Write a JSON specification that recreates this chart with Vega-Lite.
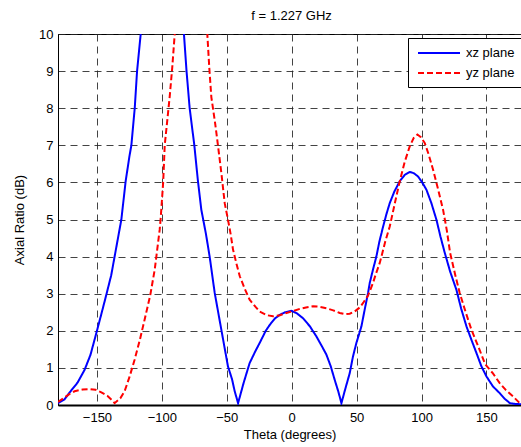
{
  "$schema": "https://vega.github.io/schema/vega-lite/v6.json",
  "width": 463,
  "height": 371,
  "autosize": {"type": "none"},
  "padding": {"left": 58, "top": 34, "right": 0, "bottom": 42},
  "background": "white",
  "title": {"text": "f = 1.227 GHz", "fontSize": 13, "fontWeight": "normal", "font": "Liberation Sans", "offset": 5, "dx": 2},
  "config": {
    "font": "Liberation Sans",
    "view": {"stroke": "black", "strokeWidth": 1},
    "axis": {"labelFontSize": 13, "titleFontSize": 13, "titleFontWeight": "normal", "labelColor": "black", "titleColor": "black", "domainColor": "black", "ticks": false, "grid": true, "gridColor": "#222", "gridDash": [7, 5], "gridWidth": 1, "gridOpacity": 0.85}
  },
  "data": {"values": [
    {"theta": -180, "ar": 0.05, "plane": "xz plane"},
    {"theta": -175, "ar": 0.15, "plane": "xz plane"},
    {"theta": -171, "ar": 0.34, "plane": "xz plane"},
    {"theta": -165, "ar": 0.6, "plane": "xz plane"},
    {"theta": -159.5, "ar": 0.95, "plane": "xz plane"},
    {"theta": -155, "ar": 1.35, "plane": "xz plane"},
    {"theta": -150, "ar": 2.0, "plane": "xz plane"},
    {"theta": -147, "ar": 2.4, "plane": "xz plane"},
    {"theta": -142.8, "ar": 2.97, "plane": "xz plane"},
    {"theta": -139, "ar": 3.5, "plane": "xz plane"},
    {"theta": -136.4, "ar": 4.0, "plane": "xz plane"},
    {"theta": -131.2, "ar": 5.0, "plane": "xz plane"},
    {"theta": -127.9, "ar": 6.03, "plane": "xz plane"},
    {"theta": -125, "ar": 6.7, "plane": "xz plane"},
    {"theta": -123.5, "ar": 7.0, "plane": "xz plane"},
    {"theta": -120.9, "ar": 8.0, "plane": "xz plane"},
    {"theta": -119.1, "ar": 9.0, "plane": "xz plane"},
    {"theta": -116.3, "ar": 10.0, "plane": "xz plane"},
    {"theta": -110, "ar": 12.5, "plane": "xz plane"},
    {"theta": -100, "ar": 14, "plane": "xz plane"},
    {"theta": -90, "ar": 12.5, "plane": "xz plane"},
    {"theta": -83, "ar": 10.0, "plane": "xz plane"},
    {"theta": -81, "ar": 9.0, "plane": "xz plane"},
    {"theta": -78.6, "ar": 8.0, "plane": "xz plane"},
    {"theta": -75, "ar": 7.0, "plane": "xz plane"},
    {"theta": -72.2, "ar": 6.03, "plane": "xz plane"},
    {"theta": -69.6, "ar": 5.26, "plane": "xz plane"},
    {"theta": -66, "ar": 4.6, "plane": "xz plane"},
    {"theta": -63.2, "ar": 4.0, "plane": "xz plane"},
    {"theta": -59.3, "ar": 3.02, "plane": "xz plane"},
    {"theta": -54.2, "ar": 2.03, "plane": "xz plane"},
    {"theta": -49.1, "ar": 1.04, "plane": "xz plane"},
    {"theta": -46, "ar": 0.7, "plane": "xz plane"},
    {"theta": -43.9, "ar": 0.37, "plane": "xz plane"},
    {"theta": -41.3, "ar": 0.05, "plane": "xz plane"},
    {"theta": -37, "ar": 0.6, "plane": "xz plane"},
    {"theta": -32.4, "ar": 1.13, "plane": "xz plane"},
    {"theta": -28, "ar": 1.45, "plane": "xz plane"},
    {"theta": -24.7, "ar": 1.67, "plane": "xz plane"},
    {"theta": -20, "ar": 2.0, "plane": "xz plane"},
    {"theta": -16.9, "ar": 2.16, "plane": "xz plane"},
    {"theta": -13, "ar": 2.33, "plane": "xz plane"},
    {"theta": -9.2, "ar": 2.43, "plane": "xz plane"},
    {"theta": -5, "ar": 2.5, "plane": "xz plane"},
    {"theta": -0.3, "ar": 2.54, "plane": "xz plane"},
    {"theta": 4, "ar": 2.47, "plane": "xz plane"},
    {"theta": 8.7, "ar": 2.34, "plane": "xz plane"},
    {"theta": 14, "ar": 2.12, "plane": "xz plane"},
    {"theta": 19, "ar": 1.85, "plane": "xz plane"},
    {"theta": 23, "ar": 1.6, "plane": "xz plane"},
    {"theta": 26.7, "ar": 1.36, "plane": "xz plane"},
    {"theta": 30, "ar": 1.05, "plane": "xz plane"},
    {"theta": 33.1, "ar": 0.68, "plane": "xz plane"},
    {"theta": 36, "ar": 0.35, "plane": "xz plane"},
    {"theta": 38.3, "ar": 0.05, "plane": "xz plane"},
    {"theta": 41, "ar": 0.4, "plane": "xz plane"},
    {"theta": 44.7, "ar": 0.86, "plane": "xz plane"},
    {"theta": 47.2, "ar": 1.31, "plane": "xz plane"},
    {"theta": 49.8, "ar": 1.67, "plane": "xz plane"},
    {"theta": 53.7, "ar": 2.12, "plane": "xz plane"},
    {"theta": 56.2, "ar": 2.57, "plane": "xz plane"},
    {"theta": 58.8, "ar": 3.02, "plane": "xz plane"},
    {"theta": 60.1, "ar": 3.29, "plane": "xz plane"},
    {"theta": 62.6, "ar": 3.65, "plane": "xz plane"},
    {"theta": 65.2, "ar": 4.0, "plane": "xz plane"},
    {"theta": 67.5, "ar": 4.4, "plane": "xz plane"},
    {"theta": 70.4, "ar": 4.81, "plane": "xz plane"},
    {"theta": 73, "ar": 5.15, "plane": "xz plane"},
    {"theta": 75.5, "ar": 5.44, "plane": "xz plane"},
    {"theta": 79, "ar": 5.75, "plane": "xz plane"},
    {"theta": 83.2, "ar": 6.03, "plane": "xz plane"},
    {"theta": 87, "ar": 6.2, "plane": "xz plane"},
    {"theta": 90.9, "ar": 6.28, "plane": "xz plane"},
    {"theta": 94, "ar": 6.25, "plane": "xz plane"},
    {"theta": 97.3, "ar": 6.16, "plane": "xz plane"},
    {"theta": 100.5, "ar": 6.0, "plane": "xz plane"},
    {"theta": 103.8, "ar": 5.8, "plane": "xz plane"},
    {"theta": 107.5, "ar": 5.45, "plane": "xz plane"},
    {"theta": 111.5, "ar": 4.99, "plane": "xz plane"},
    {"theta": 114.5, "ar": 4.55, "plane": "xz plane"},
    {"theta": 117.9, "ar": 4.1, "plane": "xz plane"},
    {"theta": 122, "ar": 3.6, "plane": "xz plane"},
    {"theta": 126.9, "ar": 3.1, "plane": "xz plane"},
    {"theta": 130.5, "ar": 2.6, "plane": "xz plane"},
    {"theta": 134.6, "ar": 2.12, "plane": "xz plane"},
    {"theta": 138.5, "ar": 1.75, "plane": "xz plane"},
    {"theta": 142.3, "ar": 1.4, "plane": "xz plane"},
    {"theta": 146, "ar": 1.05, "plane": "xz plane"},
    {"theta": 150, "ar": 0.77, "plane": "xz plane"},
    {"theta": 155, "ar": 0.5, "plane": "xz plane"},
    {"theta": 160.2, "ar": 0.32, "plane": "xz plane"},
    {"theta": 164, "ar": 0.17, "plane": "xz plane"},
    {"theta": 168, "ar": 0.05, "plane": "xz plane"},
    {"theta": 172, "ar": 0.03, "plane": "xz plane"},
    {"theta": 176.6, "ar": 0.02, "plane": "xz plane"},
    {"theta": 180, "ar": 0.02, "plane": "xz plane"},

    {"theta": -180, "ar": 0.08, "plane": "yz plane"},
    {"theta": -175, "ar": 0.2, "plane": "yz plane"},
    {"theta": -171, "ar": 0.3, "plane": "yz plane"},
    {"theta": -167.2, "ar": 0.37, "plane": "yz plane"},
    {"theta": -161, "ar": 0.42, "plane": "yz plane"},
    {"theta": -155.6, "ar": 0.43, "plane": "yz plane"},
    {"theta": -151, "ar": 0.41, "plane": "yz plane"},
    {"theta": -146.6, "ar": 0.34, "plane": "yz plane"},
    {"theta": -142, "ar": 0.25, "plane": "yz plane"},
    {"theta": -139, "ar": 0.15, "plane": "yz plane"},
    {"theta": -136.4, "ar": 0.05, "plane": "yz plane"},
    {"theta": -132, "ar": 0.18, "plane": "yz plane"},
    {"theta": -128.7, "ar": 0.37, "plane": "yz plane"},
    {"theta": -125, "ar": 0.75, "plane": "yz plane"},
    {"theta": -121, "ar": 1.22, "plane": "yz plane"},
    {"theta": -117, "ar": 1.75, "plane": "yz plane"},
    {"theta": -113.3, "ar": 2.3, "plane": "yz plane"},
    {"theta": -109, "ar": 2.95, "plane": "yz plane"},
    {"theta": -105.5, "ar": 3.65, "plane": "yz plane"},
    {"theta": -101.7, "ar": 4.72, "plane": "yz plane"},
    {"theta": -100.9, "ar": 5.04, "plane": "yz plane"},
    {"theta": -99, "ar": 6.0, "plane": "yz plane"},
    {"theta": -97.8, "ar": 7.0, "plane": "yz plane"},
    {"theta": -94, "ar": 8.3, "plane": "yz plane"},
    {"theta": -92, "ar": 9.1, "plane": "yz plane"},
    {"theta": -90.1, "ar": 10.0, "plane": "yz plane"},
    {"theta": -85, "ar": 12, "plane": "yz plane"},
    {"theta": -78, "ar": 13, "plane": "yz plane"},
    {"theta": -70, "ar": 12, "plane": "yz plane"},
    {"theta": -65, "ar": 10.0, "plane": "yz plane"},
    {"theta": -63.5, "ar": 9.1, "plane": "yz plane"},
    {"theta": -61.9, "ar": 8.3, "plane": "yz plane"},
    {"theta": -59, "ar": 7.6, "plane": "yz plane"},
    {"theta": -56.8, "ar": 7.0, "plane": "yz plane"},
    {"theta": -54, "ar": 6.2, "plane": "yz plane"},
    {"theta": -51.6, "ar": 5.44, "plane": "yz plane"},
    {"theta": -49.1, "ar": 5.0, "plane": "yz plane"},
    {"theta": -47, "ar": 4.6, "plane": "yz plane"},
    {"theta": -45.2, "ar": 4.19, "plane": "yz plane"},
    {"theta": -42.5, "ar": 3.8, "plane": "yz plane"},
    {"theta": -40, "ar": 3.47, "plane": "yz plane"},
    {"theta": -36, "ar": 3.12, "plane": "yz plane"},
    {"theta": -32.4, "ar": 2.84, "plane": "yz plane"},
    {"theta": -28, "ar": 2.65, "plane": "yz plane"},
    {"theta": -24.7, "ar": 2.52, "plane": "yz plane"},
    {"theta": -19, "ar": 2.42, "plane": "yz plane"},
    {"theta": -14.4, "ar": 2.39, "plane": "yz plane"},
    {"theta": -9, "ar": 2.42, "plane": "yz plane"},
    {"theta": -4.1, "ar": 2.48, "plane": "yz plane"},
    {"theta": 1, "ar": 2.53, "plane": "yz plane"},
    {"theta": 6.2, "ar": 2.59, "plane": "yz plane"},
    {"theta": 11, "ar": 2.63, "plane": "yz plane"},
    {"theta": 16.4, "ar": 2.66, "plane": "yz plane"},
    {"theta": 21, "ar": 2.65, "plane": "yz plane"},
    {"theta": 26.7, "ar": 2.61, "plane": "yz plane"},
    {"theta": 32, "ar": 2.55, "plane": "yz plane"},
    {"theta": 37, "ar": 2.48, "plane": "yz plane"},
    {"theta": 41, "ar": 2.45, "plane": "yz plane"},
    {"theta": 44.7, "ar": 2.46, "plane": "yz plane"},
    {"theta": 48.5, "ar": 2.52, "plane": "yz plane"},
    {"theta": 52.4, "ar": 2.63, "plane": "yz plane"},
    {"theta": 55, "ar": 2.75, "plane": "yz plane"},
    {"theta": 58.8, "ar": 2.95, "plane": "yz plane"},
    {"theta": 62.6, "ar": 3.29, "plane": "yz plane"},
    {"theta": 65, "ar": 3.55, "plane": "yz plane"},
    {"theta": 67.8, "ar": 3.83, "plane": "yz plane"},
    {"theta": 69.1, "ar": 4.0, "plane": "yz plane"},
    {"theta": 72, "ar": 4.4, "plane": "yz plane"},
    {"theta": 75.5, "ar": 4.81, "plane": "yz plane"},
    {"theta": 79.5, "ar": 5.45, "plane": "yz plane"},
    {"theta": 83.2, "ar": 6.03, "plane": "yz plane"},
    {"theta": 87, "ar": 6.55, "plane": "yz plane"},
    {"theta": 90.9, "ar": 6.97, "plane": "yz plane"},
    {"theta": 94, "ar": 7.2, "plane": "yz plane"},
    {"theta": 96.8, "ar": 7.29, "plane": "yz plane"},
    {"theta": 99.5, "ar": 7.22, "plane": "yz plane"},
    {"theta": 102.5, "ar": 7.06, "plane": "yz plane"},
    {"theta": 105.5, "ar": 6.75, "plane": "yz plane"},
    {"theta": 108.9, "ar": 6.34, "plane": "yz plane"},
    {"theta": 112.5, "ar": 5.85, "plane": "yz plane"},
    {"theta": 116.6, "ar": 5.26, "plane": "yz plane"},
    {"theta": 119.5, "ar": 4.7, "plane": "yz plane"},
    {"theta": 122, "ar": 4.1, "plane": "yz plane"},
    {"theta": 126, "ar": 3.5, "plane": "yz plane"},
    {"theta": 129.4, "ar": 3.02, "plane": "yz plane"},
    {"theta": 134, "ar": 2.5, "plane": "yz plane"},
    {"theta": 138.4, "ar": 2.03, "plane": "yz plane"},
    {"theta": 144, "ar": 1.55, "plane": "yz plane"},
    {"theta": 149, "ar": 1.1, "plane": "yz plane"},
    {"theta": 155, "ar": 0.85, "plane": "yz plane"},
    {"theta": 160.2, "ar": 0.59, "plane": "yz plane"},
    {"theta": 165, "ar": 0.4, "plane": "yz plane"},
    {"theta": 170.5, "ar": 0.23, "plane": "yz plane"},
    {"theta": 175.6, "ar": 0.05, "plane": "yz plane"},
    {"theta": 180, "ar": 0.02, "plane": "yz plane"}
  ]},
  "mark": {"type": "line", "clip": true, "strokeWidth": 2},
  "encoding": {
    "x": {"field": "theta", "type": "quantitative", "scale": {"domain": [-180, 176.6], "nice": false, "zero": false},
      "axis": {"values": [-150, -100, -50, 0, 50, 100, 150], "title": "Theta (degrees)", "labelPadding": 6, "titlePadding": 4, "domainWidth": 2}},
    "y": {"field": "ar", "type": "quantitative", "scale": {"domain": [0, 10], "nice": false},
      "axis": {"values": [0, 1, 2, 3, 4, 5, 6, 7, 8, 9, 10], "title": "Axial Ratio (dB)", "labelPadding": 5, "titlePadding": 12}},
    "color": {"field": "plane", "type": "nominal", "scale": {"domain": ["xz plane", "yz plane"], "range": ["#0000ff", "#ff0000"]},
      "legend": {"title": null, "orient": "none", "legendX": 350, "legendY": 4, "symbolType": "M-3,0H3", "symbolSize": 196, "symbolStrokeWidth": 2, "symbolOffset": 16, "labelFontSize": 13, "labelOffset": 19, "padding": 7, "rowPadding": 5, "strokeColor": "black", "fillColor": "white", "labelColor": "black"}},
    "strokeDash": {"field": "plane", "type": "nominal", "scale": {"domain": ["xz plane", "yz plane"], "range": [[1, 0], [6, 3]]}}
  }
}
